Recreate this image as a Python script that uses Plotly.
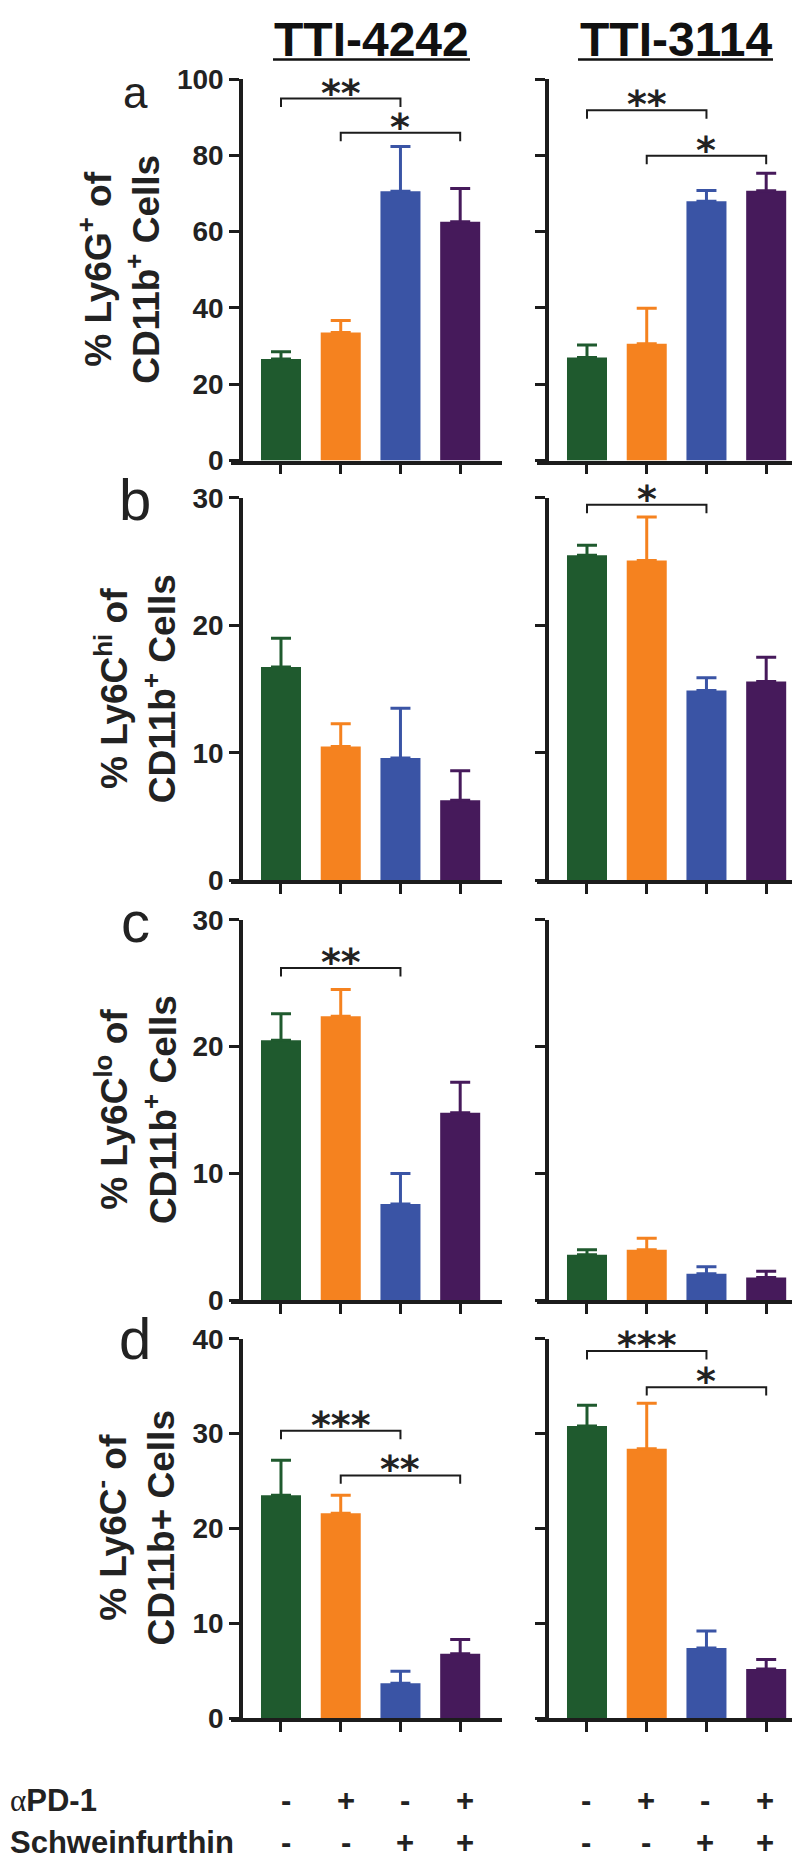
import plotly.graph_objects as go

W, H = 800, 1863

# ---------------- data ----------------
groups = ["Vehicle", "αPD-1", "Schweinfurthin", "αPD-1 + Schweinfurthin"]
bar_colors = ["#1f5a2e", "#f5821f", "#3a54a5", "#461a5b"]
apd1_row = ["-", "+", "-", "+"]
schw_row = ["-", "-", "+", "+"]
tumors = ["TTI-4242", "TTI-3114"]
panel_letters = ["a", "b", "c", "d"]

ytitles = [
    "% Ly6G<sup>+</sup> of<br>CD11b<sup>+</sup> Cells",
    "% Ly6C<sup>hi</sup> of<br>CD11b<sup>+</sup> Cells",
    "% Ly6C<sup>lo</sup> of<br>CD11b<sup>+</sup> Cells",
    "% Ly6C<sup>-</sup> of<br>CD11b+ Cells",
]
ymax = [100, 30, 30, 40]
ytick_step = [20, 10, 10, 10]

a_4242_mean = [26.6, 33.6, 70.6, 62.6]
a_4242_err = [1.9, 3.1, 11.7, 8.7]
a_3114_mean = [27.0, 30.6, 68.0, 70.7]
a_3114_err = [3.3, 9.3, 2.8, 4.6]

b_4242_mean = [16.75, 10.5, 9.6, 6.3]
b_4242_err = [2.25, 1.8, 3.9, 2.3]
b_3114_mean = [25.5, 25.1, 14.9, 15.6]
b_3114_err = [0.8, 3.4, 1.0, 1.9]

c_4242_mean = [20.5, 22.4, 7.6, 14.8]
c_4242_err = [2.1, 2.1, 2.4, 2.4]
c_3114_mean = [3.6, 4.0, 2.1, 1.8]
c_3114_err = [0.4, 0.9, 0.55, 0.5]

d_4242_mean = [23.5, 21.6, 3.7, 6.8]
d_4242_err = [3.7, 1.9, 1.25, 1.5]
d_3114_mean = [30.8, 28.4, 7.4, 5.2]
d_3114_err = [2.2, 4.8, 1.8, 1.0]

# significance brackets: (panel, tumor, from, to, height, label)
brackets = [
    (0, 0, 0, 2, 94.9, "**"),
    (0, 0, 1, 3, 85.9, "*"),
    (0, 1, 0, 2, 91.8, "**"),
    (0, 1, 1, 3, 79.9, "*"),
    (1, 1, 0, 2, 29.46, "*"),
    (2, 0, 0, 2, 26.2, "**"),
    (3, 0, 0, 2, 30.3, "***"),
    (3, 0, 1, 3, 25.6, "**"),
    (3, 1, 0, 2, 38.7, "***"),
    (3, 1, 1, 3, 34.9, "*"),
]

means = [[a_4242_mean, a_3114_mean], [b_4242_mean, b_3114_mean],
         [c_4242_mean, c_3114_mean], [d_4242_mean, d_3114_mean]]
errs = [[a_4242_err, a_3114_err], [b_4242_err, b_3114_err],
        [c_4242_err, c_3114_err], [d_4242_err, d_3114_err]]

# ---------------- layout geometry (pixels) ----------------
panel_px = [(57, 445), (483, 872), (912, 1299), (1338, 1724)]
xdom_px = [(223, 494), (529, 800)]
yaxis_px = [233, 539]
xrange = [-0.837, 3.70]
letter_y_px = [71, 485, 914, 1338]
letter_size = [44, 58, 58, 58]
ytitle_x_px = [112, 128, 128, 127]

AX = "#1c1c1c"
FONT = "Liberation Sans"


def py(p):
    return 1 - p / H


fig = go.Figure()
layout = dict(
    width=W, height=H, margin=dict(l=0, r=0, t=0, b=0),
    plot_bgcolor="white", paper_bgcolor="white",
    showlegend=False, barmode="overlay",
)
shapes = []
annotations = []

for p in range(4):
    top, bot = panel_px[p]
    for s in range(2):
        k = 2 * p + s + 1
        xa = "x" if k == 1 else f"x{k}"
        ya = "y" if k == 1 else f"y{k}"
        layout["xaxis" if k == 1 else f"xaxis{k}"] = dict(
            domain=[xdom_px[s][0] / W, xdom_px[s][1] / W], anchor=ya,
            range=xrange, showgrid=False, zeroline=False, showline=True,
            linecolor=AX, linewidth=3.5, ticks="outside", ticklen=10,
            tickwidth=3, tickcolor=AX, tickvals=[0, 1, 2, 3],
            showticklabels=False, fixedrange=True,
        )
        layout["yaxis" if k == 1 else f"yaxis{k}"] = dict(
            domain=[py(bot), py(top)], anchor="free",
            position=yaxis_px[s] / W, range=[0, ymax[p]],
            tickvals=list(range(0, ymax[p] + 1, ytick_step[p])),
            showgrid=False, zeroline=False, showline=True, linecolor=AX,
            linewidth=3.5, ticks="outside", ticklen=10, tickwidth=3,
            tickcolor=AX, showticklabels=(s == 0),
            tickfont=dict(family=FONT, size=28, color="#222", weight="bold"),
            fixedrange=True,
        )
        for g in range(4):
            fig.add_trace(go.Bar(
                x=[g], y=[means[p][s][g]], width=0.67, name=groups[g],
                marker=dict(color=bar_colors[g], line=dict(width=0)),
                error_y=dict(type="data", symmetric=False,
                             array=[errs[p][s][g]], arrayminus=[0],
                             color=bar_colors[g], thickness=3, width=10),
                xaxis=xa, yaxis=ya,
            ))
    # panel letter
    annotations.append(dict(
        text=panel_letters[p], xref="paper", yref="paper",
        x=127 / W, y=py(letter_y_px[p]), xanchor="center", yanchor="middle",
        showarrow=False,
        font=dict(family=FONT, size=letter_size[p], color="#222"),
    ))
    # y title
    annotations.append(dict(
        text=ytitles[p], xref="paper", yref="paper",
        x=ytitle_x_px[p] / W, y=py((top + bot) / 2),
        xanchor="center", yanchor="middle", textangle=-90, showarrow=False,
        font=dict(family=FONT, size=37, color="#222", weight="bold"),
    ))

# brackets
for (p, s, i0, i1, yl, lab) in brackets:
    k = 2 * p + s + 1
    xa = "x" if k == 1 else f"x{k}"
    ya = "y" if k == 1 else f"y{k}"
    drop = 0.022 * ymax[p]
    shapes.append(dict(
        type="path", xref=xa, yref=ya,
        path=f"M {i0},{yl - drop} L {i0},{yl} L {i1},{yl} L {i1},{yl - drop}",
        line=dict(color=AX, width=2),
    ))
    annotations.append(dict(
        text=lab, xref=xa, yref=ya, x=(i0 + i1) / 2, y=yl,
        xanchor="center", yanchor="bottom", yshift=-18, showarrow=False,
        font=dict(family="DejaVu Sans", size=38, color="#222", weight="bold"),
    ))

# titles with underline
title_px = [(265, 462), (570, 765)]
for s in range(2):
    x0, x1 = title_px[s]
    annotations.append(dict(
        text=tumors[s], xref="paper", yref="paper", x=(x0 + x1) / 2 / W,
        y=py(17), xanchor="center", yanchor="middle", showarrow=False,
        font=dict(family=FONT, size=48, color="#111", weight="bold"),
    ))
    shapes.append(dict(type="line", xref="paper", yref="paper",
                       x0=x0 / W, x1=x1 / W, y0=py(37), y1=py(37),
                       line=dict(color="#111", width=2.5)))

# treatment rows
row_y = [1808, 1850]
annotations.append(dict(
    text="<span style='font-family:Liberation Serif'>α</span><b>PD-1</b>",
    xref="paper", yref="paper", x=0.0, y=py(row_y[0]),
    xanchor="left", yanchor="middle", showarrow=False,
    font=dict(family=FONT, size=31, color="#222"),
))
annotations.append(dict(
    text="<b>Schweinfurthin</b>", xref="paper", yref="paper", x=0.0, y=py(row_y[1]),
    xanchor="left", yanchor="middle", showarrow=False,
    font=dict(family=FONT, size=31, color="#222"),
))
for s in range(2):
    xa = "x7" if s == 0 else "x8"
    for g in range(4):
        for r, row in enumerate([apd1_row, schw_row]):
            annotations.append(dict(
                text=row[g], xref=xa, yref="paper", x=g, y=py(row_y[r]),
                xanchor="center", yanchor="middle", showarrow=False,
                xshift=5 if s == 0 else -1,
                font=dict(family=FONT, size=31, color="#222", weight="bold"),
            ))

layout["shapes"] = shapes
layout["annotations"] = annotations
fig.update_layout(**layout)
fig.write_html("out.html")
